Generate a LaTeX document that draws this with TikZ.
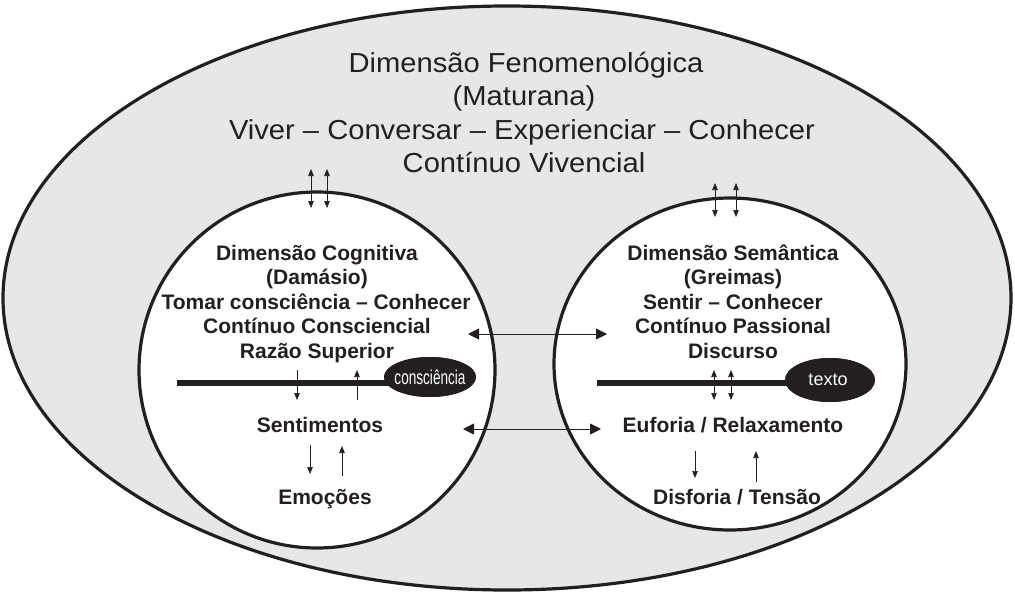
\documentclass[tikz,border=0pt]{standalone}
\usepackage{fontspec}
\setmainfont{Liberation Sans}
\newfontfamily\widef[FakeStretch=1.06]{Liberation Sans}
\newfontfamily\narrowf[FakeStretch=0.68]{Liberation Sans}
\usetikzlibrary{arrows.meta,shapes.geometric}
\definecolor{ink}{HTML}{231F20}
\definecolor{bgfill}{HTML}{E6E7E8}
\begin{document}
\begin{tikzpicture}[x=1pt,y=-1pt,
  outertxt/.style={font=\widef\fontsize{27.5}{33}\selectfont, text=ink, anchor=base, inner sep=0pt},
  innertxt/.style={font=\bfseries\fontsize{21}{24}\selectfont, text=ink, anchor=base, inner sep=0pt},
  blob/.style={ellipse, fill=ink, inner sep=0pt},
  thickline/.style={line width=6.5pt, draw=ink},
  border/.style={line width=3.2pt, draw=ink},
  sarrow/.style={line width=0.7pt, draw=ink, -{Triangle[length=7pt,width=5.5pt]}},
  sdarrow/.style={line width=0.7pt, draw=ink, {Triangle[length=7pt,width=5.5pt]}-{Triangle[length=7pt,width=5.5pt]}},
  bdarrow/.style={line width=0.9pt, draw=ink, {Triangle[length=11pt,width=11pt]}-{Triangle[length=11pt,width=11pt]}}
]
\useasboundingbox (0,0) rectangle (1015,595);
% outer ellipse
\path[border, fill=bgfill] (507,298) ellipse [x radius=504pt, y radius=292pt];
% inner circles
\path[border, fill=white] (317,370) circle [radius=178pt];
\path[border, fill=white] (730,364) ellipse [x radius=176pt, y radius=166pt];

% outer texts
\node[outertxt] (o1) at (526,72) {Dimensão Fenomenológica};
\node[outertxt] (o2) at (524,105.5) {(Maturana)};
\node[outertxt] (o3) at (522,139) {Viver – Conversar – Experienciar – Conhecer};
\node[outertxt] (o4) at (524,172) {Contínuo Vivencial};

% left texts
\node[innertxt] (l1) at (317,260) {Dimensão Cognitiva};
\node[innertxt] (l2) at (317,284.5) {(Damásio)};
\node[innertxt] (l3) at (316,309) {Tomar consciência – Conhecer};
\node[innertxt] (l4) at (317,333.5) {Contínuo Consciencial};
\node[innertxt] (l5) at (317,358) {Razão Superior};
\node[innertxt] (l6) at (320,432) {Sentimentos};
\node[innertxt] (l7) at (325,504) {Emoções};

% right texts
\node[innertxt] (r1) at (733,260) {Dimensão Semântica};
\node[innertxt] (r2) at (733,284.5) {(Greimas)};
\node[innertxt] (r3) at (733,309) {Sentir – Conhecer};
\node[innertxt] (r4) at (733,333.5) {Contínuo Passional};
\node[innertxt] (r5) at (733,358) {Discurso};
\node[innertxt] (r6) at (733,432) {Euforia / Relaxamento};
\node[innertxt] (r7) at (737,504) {Disforia / Tensão};

% thick lines and blobs
\coordinate (lstart) at (177,383);
\coordinate (rstart) at (597,383);
\node[blob, minimum width=92pt, minimum height=40pt] (cons) at (430,377) {};
\node[blob, minimum width=90pt, minimum height=44pt] (txt) at (830,380) {};
\draw[thickline] (lstart) -- (cons.center |- lstart);
\draw[thickline] (rstart) -- (txt.center |- rstart);
\node[blob, minimum width=92pt, minimum height=40pt] at (cons.center) {};
\node[blob, minimum width=90pt, minimum height=44pt] at (txt.center) {};
\node[text=white, font=\narrowf\fontsize{20}{20}\selectfont, inner sep=0pt, anchor=base] (consl) at (430,384) {consciência};
\node[text=white, font=\fontsize{18}{18}\selectfont, inner sep=0pt, anchor=base] (txtl) at (828,385) {texto};

% top double arrows
\coordinate (ta1) at (311,169); \coordinate (tb1) at (311,208);
\coordinate (ta2) at (327,169); \coordinate (tb2) at (327,208);
\coordinate (ta3) at (715,183); \coordinate (tb3) at (715,217);
\coordinate (ta4) at (736,183); \coordinate (tb4) at (736,217);
\draw[sdarrow] (ta1) -- (tb1);
\draw[sdarrow] (ta2) -- (tb2);
\draw[sdarrow] (ta3) -- (tb3);
\draw[sdarrow] (ta4) -- (tb4);

% left line arrows
\coordinate (la1) at (297,370); \coordinate (lb1) at (297,400);
\coordinate (la2) at (357,400); \coordinate (lb2) at (357,370);
\draw[sarrow] (la1) -- (lb1);
\draw[sarrow] (la2) -- (lb2);

% right line double arrows
\coordinate (ra1) at (714,370); \coordinate (rb1) at (714,400);
\coordinate (ra2) at (731,370); \coordinate (rb2) at (731,400);
\draw[sdarrow] (ra1) -- (rb1);
\draw[sdarrow] (ra2) -- (rb2);

% Sentimentos / Emocoes arrows
\coordinate (sa1) at (310,445); \coordinate (sb1) at (310,474);
\coordinate (sa2) at (342,476); \coordinate (sb2) at (342,446);
\draw[sarrow] (sa1) -- (sb1);
\draw[sarrow] (sa2) -- (sb2);

% Euforia / Disforia arrows
\coordinate (ea1) at (695,451); \coordinate (eb1) at (695,478);
\coordinate (ea2) at (756,482); \coordinate (eb2) at (756,451);
\draw[sarrow] (ea1) -- (eb1);
\draw[sarrow] (ea2) -- (eb2);

% horizontal double arrows
\coordinate (h1a) at (468,334); \coordinate (h1b) at (607,334);
\coordinate (h2a) at (463,429); \coordinate (h2b) at (601,429);
\draw[bdarrow] (h1a) -- (h1b);
\draw[bdarrow] (h2a) -- (h2b);
\end{tikzpicture}
\end{document}
